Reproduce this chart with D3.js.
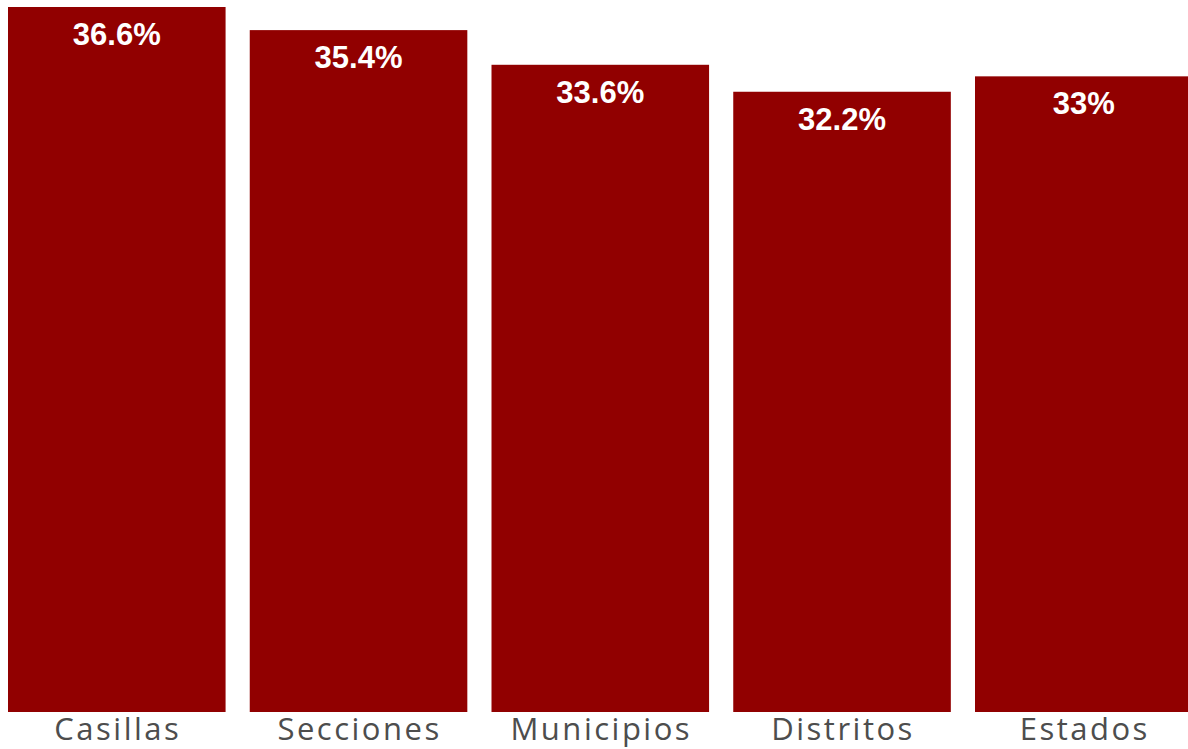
<!DOCTYPE html>
<html lang="es">
<head>
<meta charset="UTF-8">
<title>Chart</title>
<style>
  body { margin: 0; background: #fff; }
  svg { display: block; }
</style>
</head>
<body>
<script src="https://d3js.org/d3.v7.min.js"></script>
<script>
  var categories = ["Casillas", "Secciones", "Municipios", "Distritos", "Estados"];
  var values = [36.6, 35.4, 33.6, 32.2, 33];
  var labels = ["36.6%", "35.4%", "33.6%", "32.2%", "33%"];

  var width = 1188, height = 749;
  var svg = d3.select("body").append("svg").attr("width", width).attr("height", height);

  // bars run off the right edge like in the original
  var x = d3.scaleBand()
    .domain(categories)
    .range([8, 8 + 241.75 * 4.9])
    .paddingInner(0.1)
    .paddingOuter(0);

  var y = d3.scaleLinear()
    .domain([0, 36.6])
    .range([712, 7]);

  svg.selectAll("rect.bar")
    .data(values)
    .enter()
    .append("rect")
    .attr("class", "bar")
    .attr("x", function (d, i) { return x(categories[i]); })
    .attr("y", function (d) { return y(d); })
    .attr("width", x.bandwidth())
    .attr("height", function (d) { return y(0) - y(d); })
    .attr("fill", "#910000");

  svg.selectAll("text.val")
    .data(values)
    .enter()
    .append("text")
    .attr("class", "val")
    .text(function (d, i) { return labels[i]; })
    .attr("x", function (d, i) { return x(categories[i]) + x.bandwidth() / 2; })
    .attr("y", function (d) { return y(d) + 38; })
    .attr("text-anchor", "middle")
    .attr("fill", "#fff")
    .style("font-family", "'Liberation Sans', Arial, sans-serif")
    .style("font-weight", "bold")
    .style("font-size", "31px");

  var axis = d3.axisBottom(x).tickSize(0).tickPadding(0);
  var gAxis = svg.append("g").attr("transform", "translate(0, 712)").call(axis);
  gAxis.select(".domain").remove();
  gAxis.selectAll("text")
    .attr("dy", null)
    .attr("x", 1)
    .attr("y", 28)
    .attr("fill", "#4d4d4d")
    .style("font-family", "'Open Sans', Lato, sans-serif")
    .style("font-size", "31px")
    .style("letter-spacing", "2.5px");
</script>
</body>
</html>
